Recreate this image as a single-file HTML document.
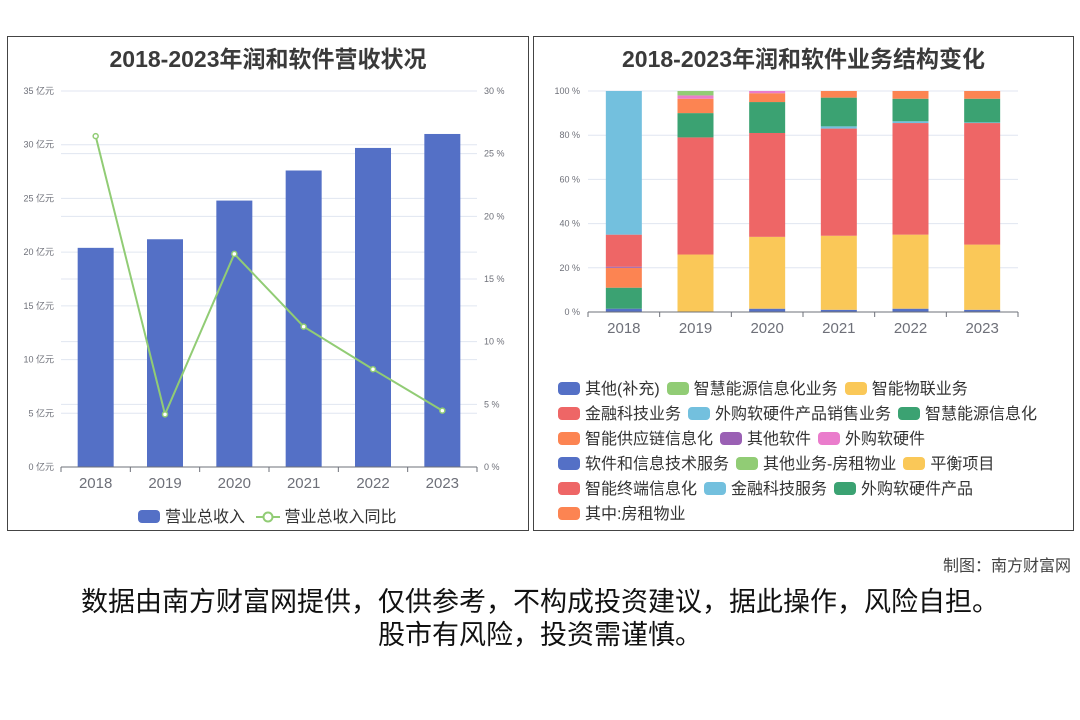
<!DOCTYPE html>
<html><head><meta charset="utf-8">
<style>
*{margin:0;padding:0;box-sizing:border-box}
body{width:1080px;height:720px;background:#fff;font-family:"Liberation Sans","Noto Sans CJK SC",sans-serif;position:relative;overflow:hidden}
.panel{position:absolute;border:1px solid #444;background:#fff}
.title{position:absolute;top:3px;left:0;right:0;text-align:center;font-weight:bold;font-size:23px;color:#3a3a3a}
svg{position:absolute;left:0;top:0}
.legend{position:absolute;font-size:16px;color:#333;line-height:25px}
.li{display:inline-block;white-space:nowrap;margin-right:7px}
.sw{display:inline-block;width:22px;height:13px;border-radius:4px;vertical-align:-1px;margin-right:5px}
.foot{position:absolute;left:0;width:1080px;text-align:center;font-size:27px;color:#111}
</style></head><body>
<div class="panel" style="left:7px;top:36px;width:522px;height:495px">
  <div class="title">2018-2023年润和软件营收状况</div>
</div>
<div class="panel" style="left:533px;top:36px;width:541px;height:495px">
  <div class="title">2018-2023年润和软件业务结构变化</div>
</div>
<svg id="c1" width="1080" height="720"></svg>
<div class="legend" style="left:138px;top:505px">
  <span class="li"><span class="sw" style="background:#5470c6"></span>营业总收入</span>
  <span class="li"><svg width="24" height="14" style="position:relative;vertical-align:-2px;margin-right:4px"><line x1="0" y1="7" x2="24" y2="7" stroke="#91cc75" stroke-width="2"/><circle cx="12" cy="7" r="4.5" fill="#fff" stroke="#91cc75" stroke-width="2"/></svg>营业总收入同比</span>
</div>
<div class="legend" id="lg2" style="left:558px;top:377px;width:512px"></div>
<div style="position:absolute;right:9px;top:552px;font-size:16px;color:#444">制图：南方财富网</div>
<div class="foot" style="top:580px">数据由南方财富网提供，仅供参考，不构成投资建议，据此操作，风险自担。</div>
<div class="foot" style="top:613px">股市有风险，投资需谨慎。</div>
<script>
const years=["2018","2019","2020","2021","2022","2023"];
const revenue=[20.4,21.2,24.8,27.6,29.7,31.0];
const revenueYoy=[26.4,4.2,17.0,11.2,7.8,4.5];
const leftTicks=[0,5,10,15,20,25,30,35];
const rightTicks=[0,5,10,15,20,25,30];

const seriesNames=["其他(补充)","智慧能源信息化业务","智能物联业务","金融科技业务","外购软硬件产品销售业务","智慧能源信息化","智能供应链信息化","其他软件","外购软硬件","软件和信息技术服务","其他业务-房租物业","平衡项目","智能终端信息化","金融科技服务","外购软硬件产品","其中:房租物业"];
const seriesColors=["#5470c6","#91cc75","#fac858","#ee6666","#73c0de","#3ba272","#fc8452","#9a60b4","#ea7ccc","#5470c6","#91cc75","#fac858","#ee6666","#73c0de","#3ba272","#fc8452"];
const s1=[1.5,0,1.5,1,1.5,1];
const s2=[0,0,0,0,0,0];
const s3=[0,26,32.5,33.5,33.5,29.5];
const s4=[0,53,47,48.5,50.5,55];
const s5=[0,0,0,1,0.8,0.3];
const s6=[9.5,11,14,13,10.2,10.7];
const s7=[9,6.5,4,3,3.5,3.5];
const s8=[0.5,0,0,0,0,0];
const s9=[0,1.5,1,0,0,0];
const s10=[0,0,0,0,0,0];
const s11=[0,2,0,0,0,0];
const s12=[0,0,0,0,0,0];
const s13=[14.5,0,0,0,0,0];
const s14=[65,0,0,0,0,0];
const s15=[0,0,0,0,0,0];
const s16=[0,0,0,0,0,0];
const stackData=[s1,s2,s3,s4,s5,s6,s7,s8,s9,s10,s11,s12,s13,s14,s15,s16];
const pctTicks=[0,20,40,60,80,100];

const NS="http://www.w3.org/2000/svg";
function mk(svg,tag,attrs,txt){const e=document.createElementNS(NS,tag);for(const k in attrs)e.setAttribute(k,attrs[k]);if(txt!==undefined)e.textContent=txt;svg.appendChild(e);return e;}
const svg=document.getElementById('c1');

const L={x0:61,x1:477,y0:467,y1:91};
const lx=i=>L.x0+(i+0.5)*(L.x1-L.x0)/years.length;
const ly=v=>L.y0-(v/35)*(L.y0-L.y1);
const ry=v=>L.y0-(v/30)*(L.y0-L.y1);
leftTicks.forEach(t=>{
  const g=mk(svg,'line',{x1:L.x0,x2:L.x1,y1:ly(t),y2:ly(t),stroke:'#e0e6f1'});
  
  const tx=mk(svg,'text',{x:54,y:ly(t)+3,'text-anchor':'end','font-size':9,fill:'#6e7079'},t+' 亿元');
  
});
rightTicks.forEach(t=>{
  const g=mk(svg,'line',{x1:L.x0,x2:L.x1,y1:ry(t),y2:ry(t),stroke:'#e0e6f1'});
  
  const tx=mk(svg,'text',{x:484,y:ry(t)+3,'font-size':9,fill:'#6e7079'},t+' %');
  
});
revenue.forEach((v,i)=>{
  const r=mk(svg,'rect',{x:lx(i)-18,y:ly(v),width:36,height:L.y0-ly(v),fill:'#5470c6'});
  
});
mk(svg,'line',{x1:L.x0,x2:L.x1,y1:L.y0,y2:L.y0,stroke:'#6e7079'});
years.forEach((y,i)=>{
  mk(svg,'line',{x1:L.x0+i*(L.x1-L.x0)/6,x2:L.x0+i*(L.x1-L.x0)/6,y1:L.y0,y2:L.y0+5,stroke:'#6e7079'});
  const tx=mk(svg,'text',{x:lx(i),y:488,'text-anchor':'middle','font-size':15,fill:'#6e7079'},y);
  
});
mk(svg,'line',{x1:L.x1,x2:L.x1,y1:L.y0,y2:L.y0+5,stroke:'#6e7079'});
const pl=mk(svg,'polyline',{points:revenueYoy.map((v,i)=>lx(i)+','+ry(v)).join(' '),fill:'none',stroke:'#91cc75','stroke-width':2});

revenueYoy.forEach((v,i)=>{
  const c=mk(svg,'circle',{cx:lx(i),cy:ry(v),r:2.5,fill:'#fff',stroke:'#91cc75','stroke-width':1.5});
  
});

const R={x0:588,x1:1018,y0:312,y1:91};
const rx=i=>R.x0+(i+0.5)*(R.x1-R.x0)/years.length;
const py=v=>R.y0-(v/100)*(R.y0-R.y1);
pctTicks.forEach(t=>{
  const g=mk(svg,'line',{x1:R.x0,x2:R.x1,y1:py(t),y2:py(t),stroke:'#e0e6f1'});
  
  const tx=mk(svg,'text',{x:580,y:py(t)+3,'text-anchor':'end','font-size':9,fill:'#6e7079'},t+' %');
  
});
years.forEach((y,i)=>{
  let acc=0;
  stackData.forEach((s,k)=>{
    const v=s[i];if(!v)return;
    const r=mk(svg,'rect',{x:rx(i)-18,y:py(acc+v),width:36,height:py(acc)-py(acc+v),fill:seriesColors[k]});
    
    
    acc+=v;
  });
});
mk(svg,'line',{x1:R.x0,x2:R.x1,y1:R.y0,y2:R.y0,stroke:'#6e7079'});
years.forEach((y,i)=>{
  mk(svg,'line',{x1:R.x0+i*(R.x1-R.x0)/6,x2:R.x0+i*(R.x1-R.x0)/6,y1:R.y0,y2:R.y0+5,stroke:'#6e7079'});
  const tx=mk(svg,'text',{x:rx(i),y:333,'text-anchor':'middle','font-size':15,fill:'#6e7079'},y);
  
});
mk(svg,'line',{x1:R.x1,x2:R.x1,y1:R.y0,y2:R.y0+5,stroke:'#6e7079'});

const lg=document.getElementById('lg2');
seriesNames.forEach((n,k)=>{
  const s=document.createElement('span');s.className='li';
  
  
  s.innerHTML='<span class="sw" style="background:'+seriesColors[k]+'"></span>'+n;
  lg.appendChild(s);
});
</script>
</body></html>
